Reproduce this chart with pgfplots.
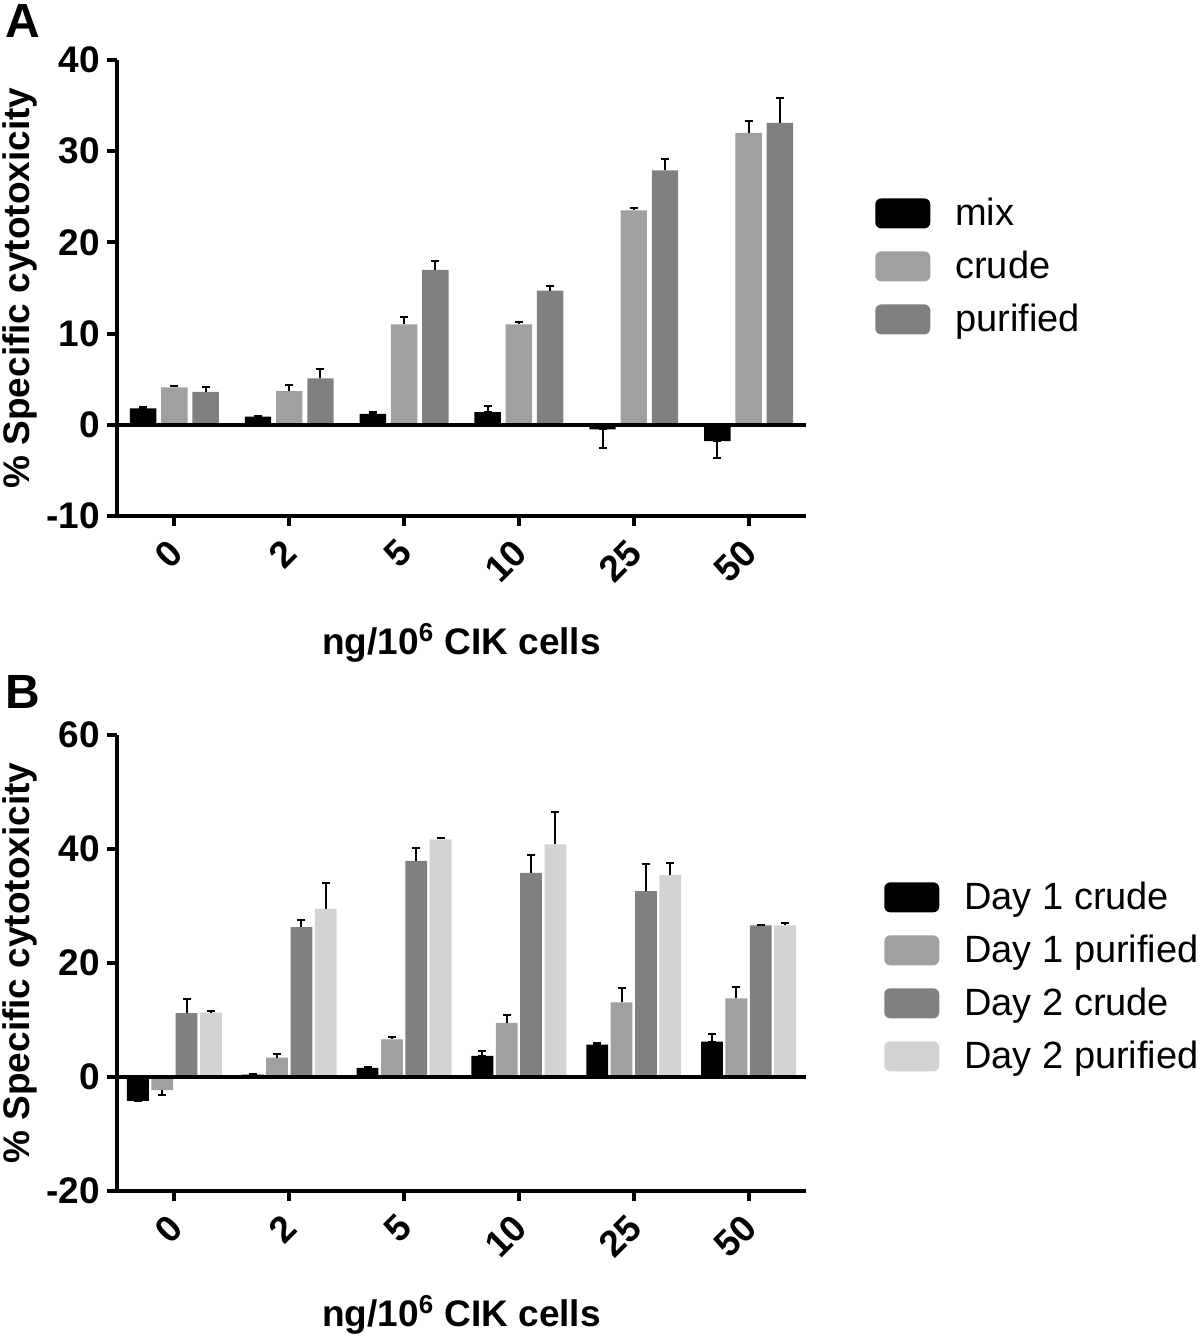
\documentclass[border=0pt]{standalone}
\usepackage{pgfplots}
\pgfplotsset{compat=1.18}
\usepackage{fontspec}
\setmainfont{Liberation Sans}

\definecolor{cgrey}{HTML}{A0A0A0}
\definecolor{cdark}{HTML}{808080}
\definecolor{clight}{HTML}{D3D3D3}

\pgfplotsset{
  panel/.style={
    scale only axis, width=344.5pt, height=228pt,
    clip=false,
    axis x line=bottom, axis y line=left,
    axis line style={-, line width=2pt},
    tick style={line width=2pt, black},
    major tick length=5pt, tick align=outside,
    xmin=-0.5, xmax=5.5, xtick={0,...,5},
    xticklabels={0,2,5,10,25,50},
    ticklabel style={font=\bfseries\fontsize{18.5}{20}\selectfont},
    /pgf/number format/assume math mode=true,
    xticklabel style={xshift=-4pt, yshift=-2.5pt, rotate=45, anchor=north east, inner sep=2pt},
    label style={font=\bfseries\fontsize{18.5}{20}\selectfont, inner sep=0pt},
    xlabel={ng/10\textsuperscript{6} CIK cells},
    ylabel={\% Specific cytotoxicity},
    ylabel style={at={(axis description cs:-0.1408,0.5)}, anchor=center},
    ybar,
    error bars/y dir=plus, error bars/y explicit,
    error bars/error bar style={line width=1pt, black},
    error bars/error mark options={rotate=90, mark size=2pt, line width=1pt, black},
    legend style={draw=none, fill=none, anchor=north west, inner sep=0pt,
      font=\fontsize{19}{21}\selectfont, row sep=0pt,
      nodes={minimum height=26.5pt, inner sep=0pt},
      /tikz/every odd column/.append style={column sep=12.5pt}},
    legend cell align=left,
    legend image code/.code={\fill[##1, draw=none, rounded corners=3pt] (0pt,-7.5pt) rectangle (27.5pt,7.5pt);},
  }
}

\begin{document}
\begin{tikzpicture}
\path (-58.5pt,-73.5pt) rectangle (541.5pt,595.5pt);

% panel A
\begin{axis}[panel, name=A, at={(0,337.5pt)}, anchor=south west,
  ymin=-10, ymax=40, ytick={-10,0,...,40},
  bar width=0.23,
  xlabel style={at={(axis description cs:0.5,-0.2785)}, anchor=center},
  legend style={at={(axis description cs:1.100,0.7226)}}]
\addplot[fill=black, draw=none, bar shift=-0.272, error bars/y dir=both] coordinates {
  (0,1.8) += (0,0.1) -= (0,0)
  (1,0.9) += (0,0.1) -= (0,0)
  (2,1.2) += (0,0.2) -= (0,0)
  (3,1.4) += (0,0.7) -= (0,0)
  (4,-0.5) += (0,0) -= (0,2.0)
  (5,-1.8) += (0,0) -= (0,1.8)
};
\addplot[fill=cgrey, draw=none, bar shift=0] coordinates {
  (0,4.1) +- (0,0.1)
  (1,3.7) +- (0,0.7)
  (2,11.0) +- (0,0.8)
  (3,11.0) +- (0,0.3)
  (4,23.5) +- (0,0.3)
  (5,32.0) +- (0,1.3)
};
\addplot[fill=cdark, draw=none, bar shift=0.272] coordinates {
  (0,3.6) +- (0,0.5)
  (1,5.1) +- (0,1.0)
  (2,17.0) +- (0,1.0)
  (3,14.7) +- (0,0.5)
  (4,27.9) +- (0,1.2)
  (5,33.1) +- (0,2.7)
};
\legend{mix, crude, purified}
\draw[line width=2pt] (axis cs:-0.5,0) -- (axis cs:5.5,0);
\end{axis}

% panel B
\begin{axis}[panel, name=B, at={(0,0)}, anchor=south west,
  ymin=-20, ymax=60, ytick={-20,0,...,60},
  bar width=0.19,
  xlabel style={at={(axis description cs:0.5,-0.272)}, anchor=center},
  legend style={at={(axis description cs:1.113,0.703)}}]
\addplot[fill=black, draw=none, bar shift=-0.318, error bars/y dir=both] coordinates {
  (0,-4.2) += (0,0) -= (0,0)
  (1,0.4) += (0,0.1) -= (0,0)
  (2,1.6) += (0,0.1) -= (0,0)
  (3,3.7) += (0,0.8) -= (0,0)
  (4,5.7) += (0,0.2) -= (0,0)
  (5,6.2) += (0,1.4) -= (0,0)
};
\addplot[fill=cgrey, draw=none, bar shift=-0.106, error bars/y dir=none] coordinates {
  (0,-2.3) (1,3.4) (2,6.6) (3,9.5) (4,13.1) (5,13.8)
};
\addplot[fill=cdark, draw=none, bar shift=0.106] coordinates {
  (0,11.2) +- (0,2.4)
  (1,26.3) +- (0,1.2)
  (2,37.9) +- (0,2.2)
  (3,35.8) +- (0,3.1)
  (4,32.6) +- (0,4.7)
  (5,26.6) +- (0,0.1)
};
\addplot[fill=clight, draw=none, bar shift=0.318] coordinates {
  (0,11.3) +- (0,0.3)
  (1,29.5) +- (0,4.5)
  (2,41.7) +- (0,0.2)
  (3,40.8) +- (0,5.7)
  (4,35.4) +- (0,2.2)
  (5,26.6) +- (0,0.5)
};
% error bars of Day 1 purified, up for positive means, down for the negative one
\addplot[forget plot, fill=none, draw=none, bar shift=-0.106,
  error bars/error bar style={draw=black, line width=1pt}] coordinates {
  (1,3.4) +- (0,0.7)
  (2,6.6) +- (0,0.4)
  (3,9.5) +- (0,1.4)
  (4,13.1) +- (0,2.6)
  (5,13.8) +- (0,2.0)
};
\addplot[forget plot, fill=none, draw=none, bar shift=-0.106,
  error bars/y dir=minus,
  error bars/error bar style={draw=black, line width=1pt}] coordinates {
  (0,-2.3) +- (0,0.8)
};
\legend{Day 1 crude, Day 1 purified, Day 2 crude, Day 2 purified}
\draw[line width=2pt] (axis cs:-0.5,0) -- (axis cs:5.5,0);
\end{axis}

\node[inner sep=0pt, font=\bfseries\fontsize{24}{24}\selectfont] at ([xshift=-47pt, yshift=247.5pt]A.south west) {A};
\node[inner sep=0pt, font=\bfseries\fontsize{24}{24}\selectfont] at ([xshift=-47pt, yshift=249.5pt]B.south west) {B};
\end{tikzpicture}
\end{document}
